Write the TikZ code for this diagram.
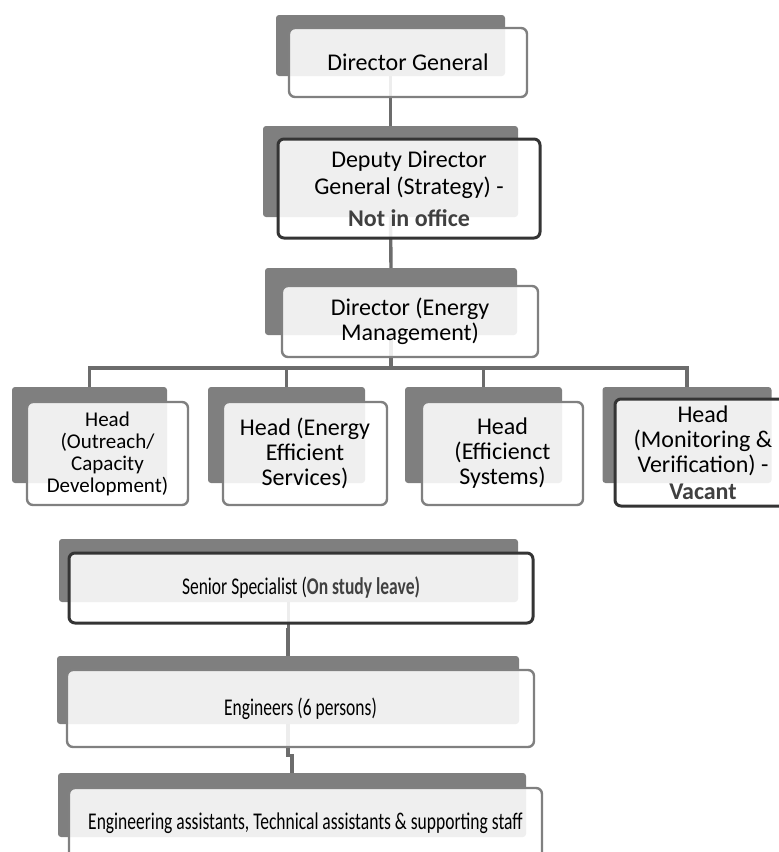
\documentclass[tikz,border=0pt]{standalone}
\usepackage{fontspec}
\setmainfont{Carlito}
\newfontfamily\narrowfont[FakeStretch=0.73]{Carlito}
\usepackage{xcolor}
\usetikzlibrary{positioning}

\definecolor{backgray}{RGB}{127,127,127}
\definecolor{rimgray}{RGB}{128,128,128}
\definecolor{rimdark}{RGB}{52,52,52}
\definecolor{linkgray}{RGB}{108,108,108}
\definecolor{boldgray}{RGB}{64,64,64}

\begin{document}
\begin{tikzpicture}[
  x=1pt, y=-1pt,
  back/.style={fill=backgray, rounded corners=3pt, inner sep=0pt},
  card/.style={draw=rimgray, line width=2.4pt, rounded corners=6pt, fill=white,
               fill opacity=0.88, text opacity=1, align=center, inner sep=0pt},
  vacant/.style={card, draw=rimdark, line width=3pt},
  link/.style={draw=linkgray, line width=3.4pt},
  big/.style={font=\fontsize{24}{25}\selectfont},
  mid/.style={font=\fontsize{21}{22}\selectfont},
  small/.style={font=\narrowfont\fontsize{24}{26}\selectfont},
]
\useasboundingbox (0,0) rectangle (779,852);
\clip (0,0) rectangle (779,852);
% back plates
\node[back, minimum width=229pt, minimum height=61pt] (dgb)  at (390.5,45.5) {};
\node[back, minimum width=255pt, minimum height=91pt] (ddgb) at (390.5,171.5) {};
\node[back, minimum width=252pt, minimum height=67pt] (dirb) at (391,301.5) {};
\node[back, minimum width=155pt, minimum height=96pt] (h1b)  at (89.5,435) {};
\node[back, minimum width=157pt, minimum height=96pt] (h2b)  at (286.5,435) {};
\node[back, minimum width=157pt, minimum height=96pt] (h3b)  at (483.5,435) {};
\node[back, minimum width=169pt, minimum height=96pt] (h4b)  at (687,435) {};
\node[back, minimum width=459pt, minimum height=63pt] (ssb)  at (288.5,570.5) {};
\node[back, minimum width=462pt, minimum height=68pt] (engb) at (288,690) {};
\node[back, minimum width=468pt, minimum height=64pt] (staffb) at (292,805) {};
% connectors
\coordinate (bus) at (391,368);
\draw[link] (dgb.south) -- (ddgb.north);
\draw[link] (ddgb.south) -- (dirb.north);
\draw[link] (dirb.south) -- (bus);
\draw[link] (h1b.north) |- (bus) -| (h4b.north);
\draw[link] (h2b.north) -- (h2b.north |- bus);
\draw[link] (h3b.north) -- (h3b.north |- bus);
\draw[link] (ssb.south) -- ++(0,27) -| (engb.north);
\draw[link] (engb.south) -- ++(0,31) -| (staffb.north);
% front cards
\node[card, big, minimum width=238pt, minimum height=69pt] (dg)
      at ([shift={(17.5,17)}]dgb.center) {Director General};
\node[vacant, font=\fontsize{24}{27}\selectfont, minimum width=262pt, minimum height=99pt] (ddg)
      at ([shift={(18.5,17)}]ddgb.center)
      {Deputy Director\\General (Strategy) -\\[5pt]\textcolor{boldgray}{\textbf{Not in office}}};
\node[card, big, minimum width=256pt, minimum height=71pt] (dir)
      at ([shift={(19,20)}]dirb.center) {Director (Energy\\Management)};
\node[card, mid, minimum width=161pt, minimum height=103pt] (h1)
      at ([shift={(18,18.5)}]h1b.center) {Head\\(Outreach/\\Capacity\\Development)};
\node[card, big, minimum width=164pt, minimum height=103pt] (h2)
      at ([shift={(18.5,18.5)}]h2b.center) {Head (Energy\\Efficient\\Services)};
\node[card, big, minimum width=161pt, minimum height=103pt] (h3)
      at ([shift={(19,18.5)}]h3b.center) {Head\\(Efficienct\\Systems)};
\node[vacant, big, minimum width=176pt, minimum height=107pt] (h4)
      at ([shift={(16,17.5)}]h4b.center)
      {Head\\(Monitoring \&\\Verification) -\\[2pt]\textcolor{boldgray}{\textbf{Vacant}}};
\node[vacant, small, minimum width=464pt, minimum height=70pt] (ss)
      at ([shift={(12.5,17.5)}]ssb.center)
      {Senior Specialist (\textcolor{boldgray}{\textbf{On study leave)}}};
\node[card, small, minimum width=467pt, minimum height=77pt] (eng)
      at ([shift={(12.5,18.5)}]engb.center) {Engineers (6 persons)};
\node[card, small, minimum width=473pt, minimum height=70pt] (staff)
      at ([shift={(13.5,18)}]staffb.center)
      {Engineering assistants, Technical assistants \& supporting staff};
\end{tikzpicture}
\end{document}
